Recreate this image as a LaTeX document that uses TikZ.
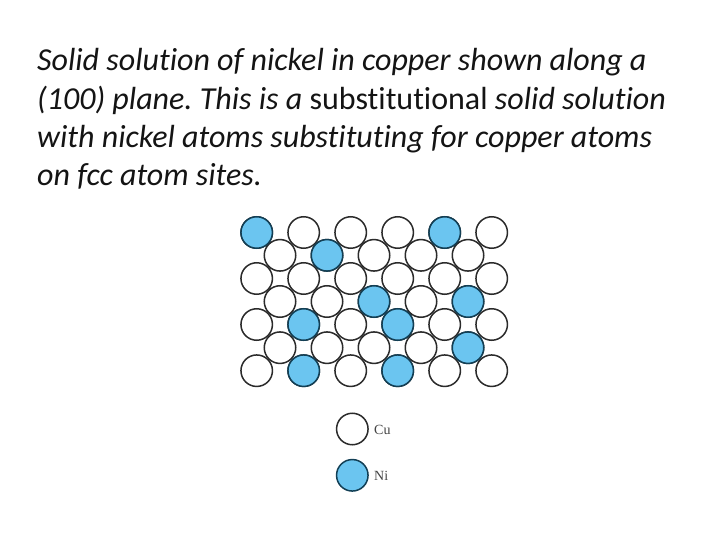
\documentclass[tikz,border=0pt]{standalone}
\usepackage{fontspec}
\setmainfont[Ligatures=NoCommon]{Carlito}
\newfontfamily\legendfont{Liberation Serif}
\definecolor{nifill}{HTML}{6BC5F0}
\definecolor{niedge}{HTML}{123F55}
\definecolor{cuedge}{HTML}{2B2B2B}
\definecolor{legendtext}{HTML}{444444}
\tikzset{
  cuatom/.style={circle,draw=cuedge,line width=1.5pt,minimum size=31.5pt,inner sep=0pt,outer sep=0pt},
  niatom/.style={circle,draw=niedge,fill=nifill,line width=1.5pt,minimum size=31.5pt,inner sep=0pt,outer sep=0pt},
  captionline/.style={anchor=base west,inner sep=0pt,font=\frenchspacing\fontsize{32}{38}\selectfont,text=black!92},
  legendlabel/.style={anchor=base west,inner sep=0pt,font=\legendfont\fontsize{14}{16}\selectfont,text=legendtext}
}
\begin{document}
\begin{tikzpicture}[x=1pt,y=-1pt]
\useasboundingbox (0,0) rectangle (720,540);
\fill[white] (0,0) rectangle (720,540);
\node[captionline] (l1) at (37,70.5) {\itshape Solid solution of nickel in copper shown along a};
\node[captionline] (l2) at (37,109.5) {{\itshape (100) plane. This is a }substitutional {\itshape solid solution}};
\node[captionline] (l3) at (37,147.5) {\itshape with nickel atoms substituting for copper atoms};
\node[captionline] (l4) at (37,185.5) {\itshape on fcc atom sites.};
% odd rows: six atoms
\foreach \yy/\rr in {232.5/a,278.5/c,324.5/e,370.7/g}
  \foreach \cc in {0,...,5}
    \node[cuatom] (\rr\cc) at ({256.7+47*\cc},\yy) {};
% even rows: five atoms
\foreach \yy/\rr in {255.3/b,301.5/d,347.7/f}
  \foreach \cc in {0,...,4}
    \node[cuatom] (\rr\cc) at ({280+47*\cc},\yy) {};
% nickel atoms on top
\foreach \xx/\yy/\nn in {256.7/232.5/n1,444.7/232.5/n2,327/255.3/n3,374/301.5/n4,468/301.5/n5,303.7/324.5/n6,397.7/324.5/n7,468/347.7/n8,303.7/370.7/n9,397.7/370.7/n10}
  \node[niatom] (\nn) at (\xx,\yy) {};
\node[cuatom] (legcu) at (352.3,429) {};
\node[niatom] (legni) at (352.3,475.3) {};
\node[legendlabel] (cu) at (374,434) {Cu};
\node[legendlabel] (ni) at (374,480.5) {Ni};
\end{tikzpicture}
\end{document}
